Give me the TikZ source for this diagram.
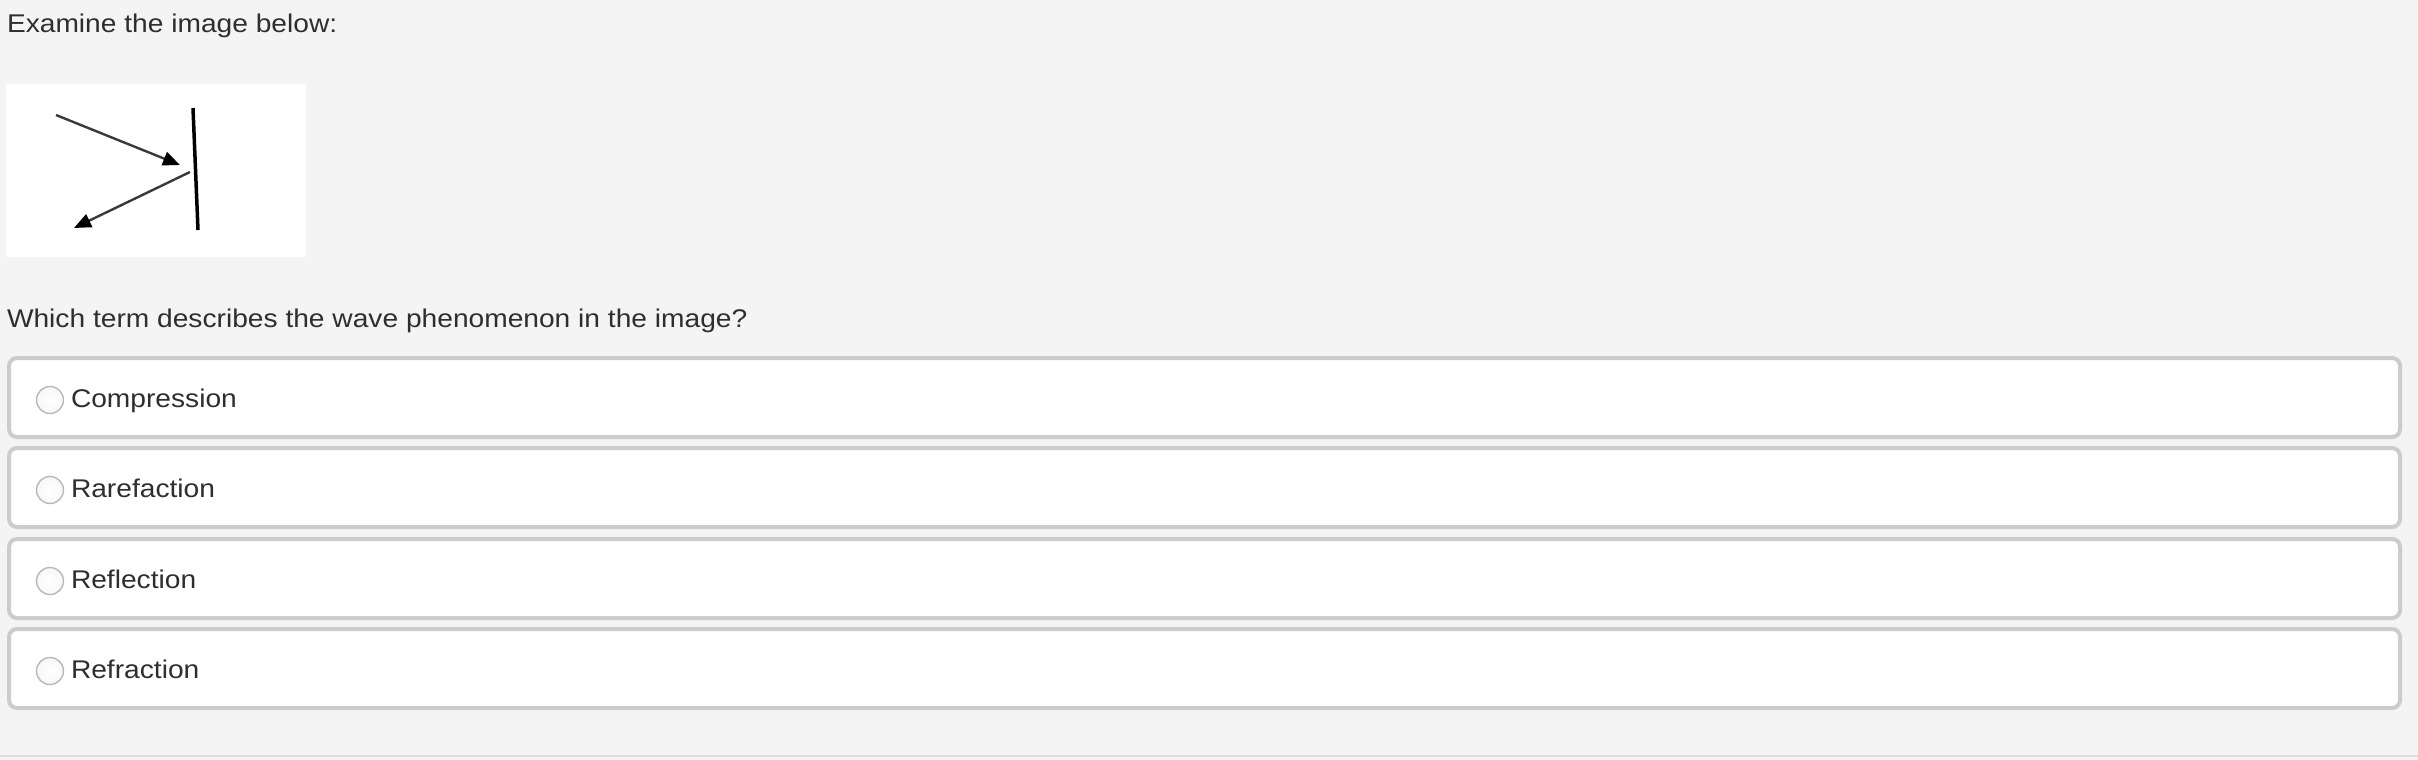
\documentclass[tikz,border=0pt]{standalone}
\usepackage{fontspec}
\setmainfont{Liberation Sans}[FakeStretch=1.1]
\usetikzlibrary{arrows.meta}
\definecolor{bg}{HTML}{F4F4F4}
\definecolor{txt}{HTML}{2E2E2E}
\definecolor{boxline}{HTML}{CCCCCC}
\definecolor{radio}{HTML}{B8B8B8}
\definecolor{rule}{HTML}{DDDDDD}
\definecolor{ray}{HTML}{3A3A3A}
\tikzset{
  lbl/.style={anchor=base west, inner sep=0pt, outer sep=0pt, text=txt, font=\fontsize{25.6pt}{30pt}\selectfont},
  optbox/.style={draw=boxline, line width=4pt, fill=white, rounded corners=8pt},
  radiob/.style={circle, draw=radio, line width=1.4pt, inner color=white, outer color=white!97!black, minimum size=27pt, inner sep=0pt},
  rayline/.style={draw=ray, line width=2.4pt, -{Triangle[length=17pt,width=14pt,fill=black,color=black]}},
  mirror/.style={draw=black, line width=3.5pt},
}
\begin{document}
\begin{tikzpicture}[x=1pt,y=-1pt]
\fill[bg] (0,0) rectangle (2418,760);
\useasboundingbox (0,0) rectangle (2418,760);
\draw[rule, line width=2pt] (0,756) -- (2418,756);

\node[lbl] (title) at (7,33) {Examine the image below:};

\fill[white] (6,84) rectangle (306,257);
\coordinate (i1) at (56,115);
\coordinate (i2) at (180,165);
\coordinate (r1) at (190,172);
\coordinate (r2) at (74,228);
\coordinate (m1) at (193,108);
\coordinate (m2) at (198,230);
\draw[rayline] (i1) -- (i2);
\draw[rayline] (r1) -- (r2);
\draw[mirror] (m1) -- (m2);

\node[lbl] (question) at (7,327) {Which term describes the wave phenomenon in the image?};

\foreach \t/\name [count=\k from 0] in {358/Compression,448/Rarefaction,539/Reflection,629/Refraction}{
  \draw[optbox] (9,\t) rectangle (2400,\t+79);
  \node[radiob] (rb\k) at (50,\t+42) {};
  \node[lbl] (opt\k) at (71,\t+49) {\name};
}
\end{tikzpicture}
\end{document}
